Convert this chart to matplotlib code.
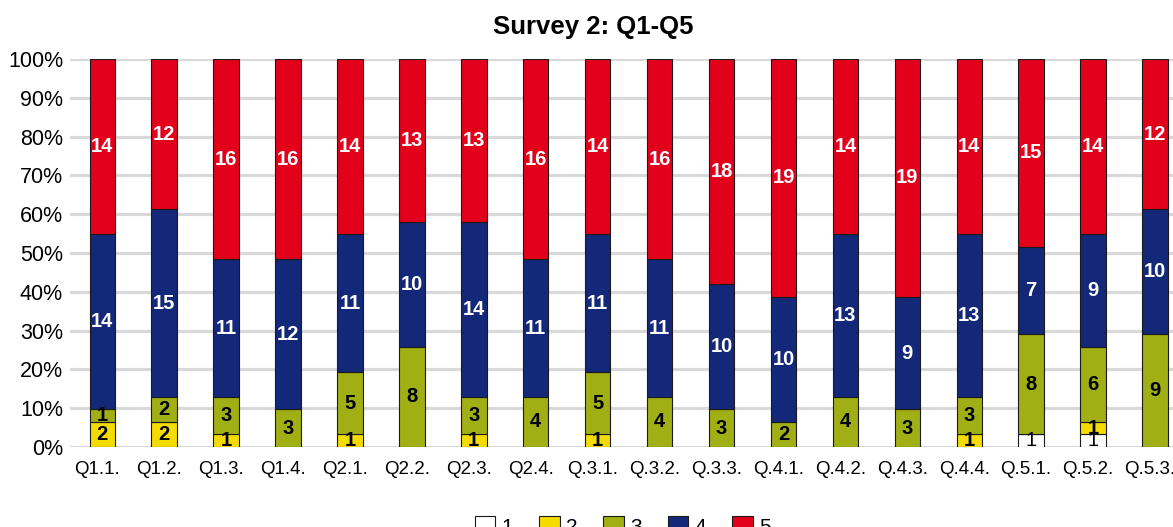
import matplotlib.pyplot as plt
import matplotlib.transforms as mtransforms
import numpy as np
from matplotlib.patches import Patch

plt.rcParams['font.family'] = ['Liberation Sans', 'DejaVu Sans']

categories = ['Q1.1.', 'Q1.2.', 'Q1.3.', 'Q1.4.', 'Q2.1.', 'Q2.2.', 'Q2.3.', 'Q2.4.',
              'Q.3.1.', 'Q.3.2.', 'Q.3.3.', 'Q.4.1.', 'Q.4.2.', 'Q.4.3.', 'Q.4.4.',
              'Q.5.1.', 'Q.5.2.', 'Q.5.3.']
ans1 = [0, 0, 0, 0, 0, 0, 0, 0, 0, 0, 0, 0, 0, 0, 0, 1, 1, 0]
ans2 = [2, 2, 1, 0, 1, 0, 1, 0, 1, 0, 0, 0, 0, 0, 1, 0, 1, 0]
ans3 = [1, 2, 3, 3, 5, 8, 3, 4, 5, 4, 3, 2, 4, 3, 3, 8, 6, 9]
ans4 = [14, 15, 11, 12, 11, 10, 14, 11, 11, 11, 10, 10, 13, 9, 13, 7, 9, 10]
ans5 = [14, 12, 16, 16, 14, 13, 13, 16, 14, 16, 18, 19, 14, 19, 14, 15, 14, 12]
series_names = ['1', '2', '3', '4', '5']

colors = ['#FFFFFF', '#F5DC00', '#A0AF14', '#14287A', '#E2001A']
text_colors = ['black', 'black', 'black', 'white', 'white']

data = np.array([ans1, ans2, ans3, ans4, ans5], dtype=float)
totals = data.sum(axis=0)
pct = data / totals * 100

fig = plt.figure(figsize=(11.73, 5.27), dpi=100)
ax = fig.add_axes([0.0597, 0.1518, 0.9403, 0.7362])

x = np.arange(len(categories))
bottom = np.zeros(len(categories))
for i in range(5):
    ax.bar(x, pct[i], 0.41, bottom=bottom, color=colors[i], edgecolor='#1a1a1a',
           linewidth=0.8, zorder=3)
    for j in range(len(categories)):
        if data[i, j] > 0:
            ax.text(x[j], bottom[j] + pct[i, j] / 2, str(int(data[i, j])),
                    ha='center', va='center', fontsize=14.5,
                    fontweight='normal' if i == 0 else 'bold',
                    color=text_colors[i], zorder=4)
    bottom += pct[i]

ax.set_xlim(-0.52, 17.29)
ax.set_ylim(0, 100)
ax.set_yticks(np.arange(0, 101, 10))
ax.set_yticklabels([f'{v}%' for v in range(0, 101, 10)], fontsize=15.5)
ax.set_xticks(x)
ax.set_xticklabels(categories, fontsize=13.5)
ax.tick_params(axis='both', length=0)
ax.tick_params(axis='x', pad=10)
ax.tick_params(axis='y', pad=5)
# labels sit slightly left of the bar centres
shift = mtransforms.ScaledTranslation(-5 / 100, 0, fig.dpi_scale_trans)
for lbl in ax.get_xticklabels():
    lbl.set_transform(lbl.get_transform() + shift)
ax.yaxis.grid(True, color='#D9D9D9', linewidth=2.3, zorder=0)
ax.set_axisbelow(True)
for s in ax.spines.values():
    s.set_visible(False)

fig.text(0.506, 0.948, 'Survey 2: Q1-Q5', ha='center', va='center',
         fontsize=18.5, fontweight='bold')

handles = [Patch(facecolor=colors[i], edgecolor='#1a1a1a', linewidth=0.8)
           for i in range(5)]
ax.legend(handles, series_names, loc='center', bbox_to_anchor=(0.501, -0.205),
          ncol=5, frameon=False, fontsize=15, handlelength=1.0, handleheight=1.0,
          handletextpad=0.3, columnspacing=1.23, borderpad=0)

plt.savefig('out.png', dpi=100)
